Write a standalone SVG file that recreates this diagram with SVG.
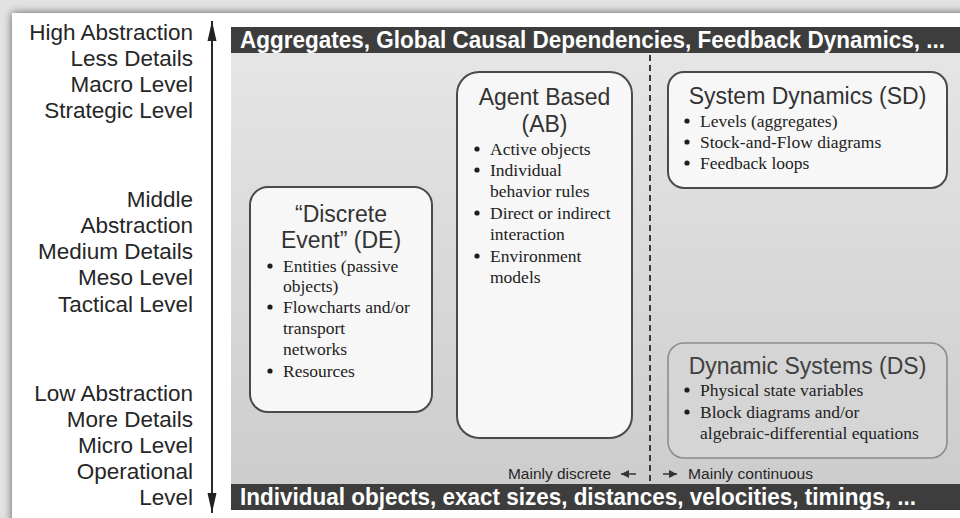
<svg xmlns="http://www.w3.org/2000/svg" width="960" height="518" viewBox="0 0 960 518">
  <defs>
    <filter id="shadow" x="-10%" y="-10%" width="120%" height="120%">
      <feGaussianBlur stdDeviation="4"/>
    </filter>
    <linearGradient id="panelGrad" x1="0" y1="0" x2="0" y2="1">
      <stop offset="0" stop-color="#e7e7e7"/>
      <stop offset="1" stop-color="#cbcbcb"/>
    </linearGradient>
    <marker id="axisHead" viewBox="0 0 20 10" refX="20" refY="5" markerWidth="20" markerHeight="10" markerUnits="userSpaceOnUse" orient="auto">
      <path d="M0,0.5 L20,5 L0,9.5 Z" fill="#222"/>
    </marker>
    <marker id="smallHead" viewBox="0 0 8 8" refX="8" refY="4" markerWidth="8" markerHeight="8" markerUnits="userSpaceOnUse" orient="auto">
      <path d="M0,0 L8,4 L0,8 Z" fill="#333"/>
    </marker>
  </defs>
  <style>
    .axis { font-family: "Liberation Sans", Arial, sans-serif; font-size: 22.5px; fill: #262626; text-anchor: end; }
    .bar { fill: #3d3d3d; }
    .barText { font-family: "Liberation Sans Narrow", "Liberation Sans", Arial, sans-serif; font-weight: bold; font-size: 23px; fill: #ffffff; }
    .box { fill: #f7f7f7; stroke: #4a4a4a; stroke-width: 2; }
    .boxDS { fill: #d5d5d5; stroke: #8c8c8c; stroke-width: 1.6; }
    .title { font-family: "Liberation Sans", Arial, sans-serif; font-size: 23px; fill: #333; text-anchor: middle; }
    .titleDS { font-family: "Liberation Sans", Arial, sans-serif; font-size: 23px; fill: #404040; text-anchor: middle; }
    .item { font-family: "Liberation Serif", "Times New Roman", serif; font-size: 17.5px; fill: #222; }
    .bullet { fill: #1e1e1e; }
    .small { font-family: "Liberation Sans Narrow", "Liberation Sans", Arial, sans-serif; font-size: 14px; fill: #262626; }
    .divider { stroke: #3a3a3a; stroke-width: 2; stroke-dasharray: 6 4; fill: none; }
  </style>

  <!-- background and card with shadow -->
  <rect x="0" y="0" width="960" height="518" fill="#e2e2e2"/>
  <rect x="12" y="13" width="980" height="520" fill="#000" opacity="0.6" filter="url(#shadow)"/>
  <rect x="12" y="13" width="980" height="520" fill="#ffffff"/>

  <!-- gray panel -->
  <rect x="231" y="27" width="729" height="483" fill="url(#panelGrad)"/>

  <!-- top bar -->
  <g id="top-bar">
    <rect class="bar" x="231" y="27" width="729" height="26"/>
    <text class="barText" x="240" y="48" textLength="705" lengthAdjust="spacingAndGlyphs">Aggregates, Global Causal Dependencies, Feedback Dynamics, ...</text>
  </g>

  <!-- bottom bar -->
  <g id="bottom-bar">
    <rect class="bar" x="231" y="484" width="729" height="26"/>
    <text class="barText" x="240" y="505" textLength="676" lengthAdjust="spacingAndGlyphs">Individual objects, exact sizes, distances, velocities, timings, ...</text>
  </g>

  <!-- axis labels -->
  <g id="axis-labels">
    <text class="axis" x="193" y="40">High Abstraction</text>
    <text class="axis" x="193" y="66">Less Details</text>
    <text class="axis" x="193" y="92">Macro Level</text>
    <text class="axis" x="193" y="118">Strategic Level</text>
    <text class="axis" x="193" y="207">Middle</text>
    <text class="axis" x="193" y="233">Abstraction</text>
    <text class="axis" x="193" y="259">Medium Details</text>
    <text class="axis" x="193" y="285">Meso Level</text>
    <text class="axis" x="193" y="312">Tactical Level</text>
    <text class="axis" x="193" y="401">Low Abstraction</text>
    <text class="axis" x="193" y="427">More Details</text>
    <text class="axis" x="193" y="453">Micro Level</text>
    <text class="axis" x="193" y="479">Operational</text>
    <text class="axis" x="193" y="505">Level</text>
  </g>

  <!-- nodes -->
  <g id="node-de">
    <rect class="box" x="250" y="187" width="182" height="225" rx="18"/>
    <text class="title" x="341" y="222">“Discrete</text>
    <text class="title" x="341" y="248">Event” (DE)</text>
    <circle class="bullet" cx="270" cy="266" r="2.6"/><text class="item" x="283" y="272">Entities (passive</text>
    <text class="item" x="283" y="292">objects)</text>
    <circle class="bullet" cx="270" cy="307" r="2.6"/><text class="item" x="283" y="313">Flowcharts and/or</text>
    <text class="item" x="283" y="334">transport</text>
    <text class="item" x="283" y="355">networks</text>
    <circle class="bullet" cx="270" cy="371" r="2.6"/><text class="item" x="283" y="377">Resources</text>
  </g>

  <g id="node-ab">
    <rect class="box" x="457" y="72" width="175" height="366" rx="22"/>
    <text class="title" x="544.5" y="105">Agent Based</text>
    <text class="title" x="544.5" y="132">(AB)</text>
    <circle class="bullet" cx="477" cy="149" r="2.6"/><text class="item" x="490" y="155">Active objects</text>
    <circle class="bullet" cx="477" cy="170" r="2.6"/><text class="item" x="490" y="176">Individual</text>
    <text class="item" x="490" y="197">behavior rules</text>
    <circle class="bullet" cx="477" cy="213" r="2.6"/><text class="item" x="490" y="219">Direct or indirect</text>
    <text class="item" x="490" y="240">interaction</text>
    <circle class="bullet" cx="477" cy="256" r="2.6"/><text class="item" x="490" y="262">Environment</text>
    <text class="item" x="490" y="283">models</text>
  </g>

  <g id="node-sd">
    <rect class="box" x="668" y="72" width="279" height="116" rx="16"/>
    <text class="title" x="807.5" y="104">System Dynamics (SD)</text>
    <circle class="bullet" cx="687" cy="121" r="2.6"/><text class="item" x="700" y="127">Levels (aggregates)</text>
    <circle class="bullet" cx="687" cy="142" r="2.6"/><text class="item" x="700" y="148">Stock-and-Flow diagrams</text>
    <circle class="bullet" cx="687" cy="163" r="2.6"/><text class="item" x="700" y="169">Feedback loops</text>
  </g>

  <g id="node-ds">
    <rect class="boxDS" x="668" y="343" width="279" height="115" rx="16"/>
    <text class="titleDS" x="807.5" y="374">Dynamic Systems (DS)</text>
    <circle class="bullet" cx="687" cy="390" r="2.6"/><text class="item" x="700" y="396">Physical state variables</text>
    <circle class="bullet" cx="687" cy="412" r="2.6"/><text class="item" x="700" y="418">Block diagrams and/or</text>
    <text class="item" x="700" y="439">algebraic-differential equations</text>
  </g>

  <!-- connectors -->
  <g id="connectors">
    <line x1="212" y1="268" x2="212" y2="21" stroke="#2a2a2a" stroke-width="2" marker-end="url(#axisHead)"/>
    <line x1="212" y1="268" x2="212" y2="513" stroke="#2a2a2a" stroke-width="2" marker-end="url(#axisHead)"/>
    <line class="divider" x1="650" y1="55" x2="650" y2="484"/>
    <line x1="636" y1="474" x2="621" y2="474" stroke="#333" stroke-width="1.5" marker-end="url(#smallHead)"/>
    <line x1="663" y1="474" x2="677" y2="474" stroke="#333" stroke-width="1.5" marker-end="url(#smallHead)"/>
  </g>

  <g id="direction-labels">
    <text class="small" x="508" y="479" textLength="103" lengthAdjust="spacingAndGlyphs">Mainly discrete</text>
    <text class="small" x="688" y="479" textLength="125" lengthAdjust="spacingAndGlyphs">Mainly continuous</text>
  </g>
</svg>
